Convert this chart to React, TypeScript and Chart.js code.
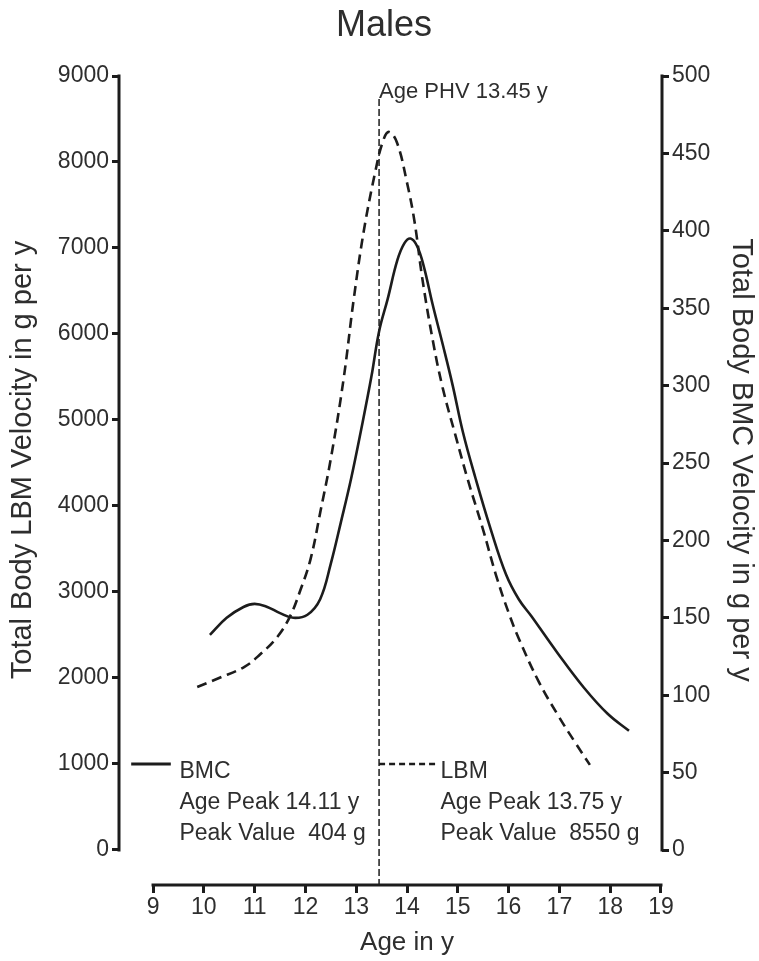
import { useEffect, useRef } from "react";
import { Chart, registerables } from "chart.js";

Chart.register(...registerables);

// ---- tick values ----
const ageTicks = [9, 10, 11, 12, 13, 14, 15, 16, 17, 18, 19];
const lbmTicks = [0, 1000, 2000, 3000, 4000, 5000, 6000, 7000, 8000, 9000];
const bmcTicks = [0, 50, 100, 150, 200, 250, 300, 350, 400, 450, 500];

// ---- LBM velocity (left axis, dashed) ----
const lbmAges = [9.87, 10.3, 10.8, 11.1, 11.45, 11.7, 11.9, 12.1, 12.3, 12.5, 12.75, 12.95, 13.15, 13.38, 13.52, 13.64, 13.8, 14.0, 14.15, 14.3, 14.5, 14.7, 14.95, 15.2, 15.5, 15.75, 16.0, 16.2, 16.6, 17.0, 17.3, 17.6];
const lbmValues = [1895, 2000, 2130, 2270, 2480, 2720, 3020, 3380, 3950, 4550, 5470, 6400, 7200, 7900, 8230, 8350, 8230, 7760, 7300, 6650, 5950, 5380, 4830, 4300, 3720, 3200, 2760, 2460, 1950, 1540, 1260, 990];

// ---- BMC velocity (right axis, solid) ----
const bmcAges = [10.12, 10.45, 10.78, 11.0, 11.25, 11.5, 11.76, 12.04, 12.29, 12.5, 12.7, 12.9, 13.1, 13.3, 13.45, 13.62, 13.81, 13.95, 14.07, 14.2, 14.33, 14.5, 14.7, 14.9, 15.1, 15.35, 15.65, 15.95, 16.2, 16.45, 16.97, 17.48, 17.95, 18.37];
const bmcValues = [139, 150, 157, 159, 157, 153, 150, 152, 162, 185, 212, 240, 272, 306, 335, 356, 381, 392, 395, 390, 377, 353, 327, 300, 270, 240, 207, 178, 162, 151, 127, 105, 88, 77];

// ---- annotations ----
const agePHV = 13.45;
const phvLabel = "Age PHV 13.45 y";
const bmcNote = ["BMC", "Age Peak 14.11 y", "Peak Value  404 g"];
const lbmNote = ["LBM", "Age Peak 13.75 y", "Peak Value  8550 g"];
const chartTitle = "Males";
const leftTitle = "Total Body LBM Velocity in g per y";
const rightTitle = "Total Body BMC Velocity in g per y";
const xTitle = "Age in y";

const FONT = "'Liberation Sans', Arial, Helvetica, sans-serif";
const INK = "#1c1c1c";
const TEXT = "#2e2e2e";

const decorPlugin = {
  id: "decor",
  afterDraw(chart: any) {
    const { ctx, chartArea: ca, scales } = chart;
    const sx = scales.x;
    const sl = scales.y;
    const sr = scales.y1;
    ctx.save();
    // axis lines
    ctx.strokeStyle = INK;
    ctx.lineWidth = 3;
    ctx.setLineDash([]);
    ctx.beginPath();
    ctx.moveTo(ca.left, sl.getPixelForValue(lbmTicks[0]) + 1.5);
    ctx.lineTo(ca.left, sl.getPixelForValue(lbmTicks[lbmTicks.length - 1]) - 1.5);
    ctx.moveTo(ca.right, sr.getPixelForValue(bmcTicks[0]) + 1.5);
    ctx.lineTo(ca.right, sr.getPixelForValue(bmcTicks[bmcTicks.length - 1]) - 1.5);
    ctx.moveTo(sx.getPixelForValue(ageTicks[0]) - 1.5, ca.bottom);
    ctx.lineTo(sx.getPixelForValue(ageTicks[ageTicks.length - 1]) + 1.5, ca.bottom);
    ctx.stroke();

    // PHV line
    const px = sx.getPixelForValue(agePHV);
    ctx.lineWidth = 1.5;
    ctx.setLineDash([7, 3]);
    ctx.beginPath();
    ctx.moveTo(px, ca.top + 23);
    ctx.lineTo(px, ca.bottom);
    ctx.stroke();

    ctx.fillStyle = TEXT;
    ctx.font = `22px ${FONT}`;
    ctx.textAlign = "left";
    ctx.textBaseline = "alphabetic";
    ctx.fillText(phvLabel, px, ca.top + 22);

    // legend-like notes, anchored at LBM = 1000
    const ly = sl.getPixelForValue(1000);
    ctx.setLineDash([]);
    ctx.lineWidth = 3;
    ctx.beginPath();
    ctx.moveTo(sx.getPixelForValue(8.57), ly);
    ctx.lineTo(sx.getPixelForValue(9.35), ly);
    ctx.stroke();

    ctx.setLineDash([6, 4]);
    ctx.lineWidth = 2.5;
    ctx.beginPath();
    ctx.moveTo(px, ly);
    ctx.lineTo(sx.getPixelForValue(14.56), ly);
    ctx.stroke();

    ctx.font = `23px ${FONT}`;
    const bx = sx.getPixelForValue(9.52);
    const lx = sx.getPixelForValue(14.66);
    for (let i = 0; i < 3; i++) {
      const ty = ly + 14 + i * 31;
      ctx.fillText(bmcNote[i], bx, ty);
      ctx.fillText(lbmNote[i], lx, ty);
    }

    // axis titles
    const midY = (sl.getPixelForValue(0) + sl.getPixelForValue(9000)) / 2 - 3;
    ctx.font = `29px ${FONT}`;
    ctx.textAlign = "center";
    ctx.textBaseline = "middle";
    ctx.save();
    ctx.translate(23, midY);
    ctx.rotate(-Math.PI / 2);
    ctx.fillText(leftTitle, 0, 0);
    ctx.restore();
    ctx.save();
    ctx.translate(741, midY);
    ctx.rotate(Math.PI / 2);
    ctx.fillText(rightTitle, 0, 0);
    ctx.restore();

    ctx.font = `26px ${FONT}`;
    ctx.fillText(xTitle, (sx.getPixelForValue(9) + sx.getPixelForValue(19)) / 2, 943);

    // title
    ctx.font = `36px ${FONT}`;
    ctx.textAlign = "center";
    ctx.textBaseline = "alphabetic";
    ctx.fillText(chartTitle, 384, 36);
    ctx.restore();
  },
};

const plain = (v: any) => String(v);

export default function App() {
  const ref = useRef<HTMLCanvasElement>(null);

  useEffect(() => {
    document.body.style.margin = "0";
    const canvas = ref.current;
    if (!canvas) return;
    const gridOpts = {
      drawOnChartArea: false,
      drawTicks: true,
      tickWidth: 3,
      tickColor: INK,
      color: INK,
    };
    const tickFont = { family: FONT, size: 23 };
    const chart = new Chart(canvas, {
      type: "line",
      data: {
        datasets: [
          {
            label: "LBM",
            data: lbmAges.map((a, i) => ({ x: a, y: lbmValues[i] })),
            yAxisID: "y",
            borderColor: INK,
            borderWidth: 2.6,
            borderDash: [10, 6],
            pointRadius: 0,
            fill: false,
            tension: 0.4,
          },
          {
            label: "BMC",
            data: bmcAges.map((a, i) => ({ x: a, y: bmcValues[i] })),
            yAxisID: "y1",
            borderColor: INK,
            borderWidth: 2.6,
            pointRadius: 0,
            fill: false,
            tension: 0.4,
          },
        ],
      },
      options: {
        animation: false,
        responsive: false,
        layout: { padding: { top: 76, left: 0, right: 0, bottom: 0 } },
        plugins: {
          legend: { display: false },
          tooltip: { enabled: false },
          title: { display: false },
        },
        scales: {
          x: {
            type: "linear",
            position: "bottom",
            min: 8.33,
            max: 19.02,
            afterBuildTicks: (s: any) => {
              s.ticks = ageTicks.map((v) => ({ value: v }));
            },
            afterFit: (s: any) => {
              s.height = 76;
            },
            border: { display: false },
            grid: { ...gridOpts, tickLength: 8 },
            ticks: {
              font: tickFont,
              color: TEXT,
              padding: 1,
              maxRotation: 0,
              autoSkip: false,
              callback: plain,
            },
          },
          y: {
            type: "linear",
            position: "left",
            min: -407,
            max: 9000,
            afterBuildTicks: (s: any) => {
              s.ticks = lbmTicks.map((v) => ({ value: v }));
            },
            afterFit: (s: any) => {
              s.width = 119;
            },
            border: { display: false },
            grid: { ...gridOpts, tickLength: 7 },
            ticks: {
              font: tickFont,
              color: TEXT,
              padding: 3,
              autoSkip: false,
              callback: plain,
            },
          },
          y1: {
            type: "linear",
            position: "right",
            min: -22.6,
            max: 500,
            afterBuildTicks: (s: any) => {
              s.ticks = bmcTicks.map((v) => ({ value: v }));
            },
            afterFit: (s: any) => {
              s.width = 97;
            },
            border: { display: false },
            grid: { ...gridOpts, tickLength: 7 },
            ticks: {
              font: tickFont,
              color: TEXT,
              padding: 3,
              autoSkip: false,
              callback: plain,
            },
          },
        },
      },
      plugins: [decorPlugin],
    } as any);
    return () => chart.destroy();
  }, []);

  return (
    <div style={{ position: "relative", width: 759, height: 961 }}>
      <canvas ref={ref} width={759} height={961} />
    </div>
  );
}
